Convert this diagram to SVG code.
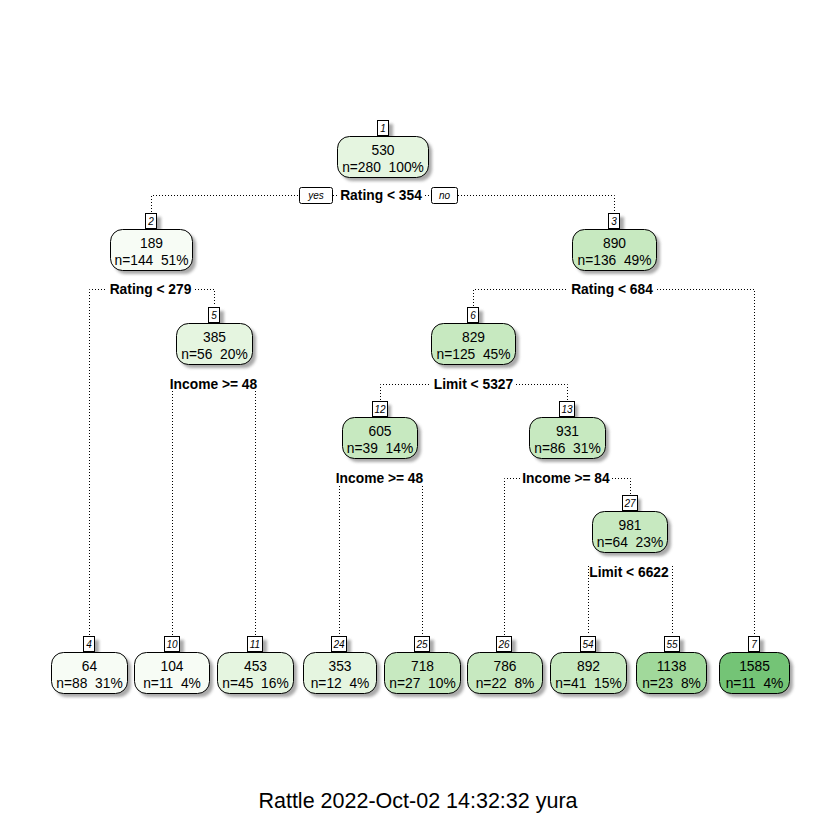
<svg xmlns="http://www.w3.org/2000/svg" width="840" height="840" viewBox="0 0 840 840">
<defs>
<filter id="blur" x="-20%" y="-20%" width="140%" height="140%"><feGaussianBlur stdDeviation="1.6"/></filter>
<style>
.sh{fill:#8c8c8c;opacity:0.75;filter:url(#blur)}
.nb{stroke:#000;stroke-width:1}
.lb{fill:#fff;stroke:#000;stroke-width:1}
.v{font-family:"Liberation Sans",Arial,sans-serif;font-size:13.8px;text-anchor:middle;fill:#000;white-space:pre}
.ln{font-family:"Liberation Sans",Arial,sans-serif;font-size:10px;font-style:italic;text-anchor:middle;fill:#000}
.sp{font-family:"Liberation Sans",Arial,sans-serif;font-size:13.8px;font-weight:bold;text-anchor:middle;fill:#000}
.c{fill:none;stroke:#000;stroke-width:1;stroke-dasharray:1 2}
.g1{fill:#F7FCF5}.g2{fill:#E5F5E0}.g3{fill:#C7E9C0}.g4{fill:#A1D99B}.g5{fill:#74C476}
</style>
</defs>
<rect width="840" height="840" fill="#fff"/>

<g id="connectors" class="c">
<path d="M151.5,212 V195.5 H299"/>
<path d="M333,195.5 H338"/>
<path d="M425,195.5 H431"/>
<path d="M458,195.5 H614.5 V212"/>
<path d="M89.5,635 V289.5 H106"/>
<path d="M195,289.5 H214.5 V306"/>
<path d="M473.5,306 V289.5 H567"/>
<path d="M657,289.5 H754.5 V635"/>
<path d="M172.5,391 V635"/>
<path d="M255.5,391 V635"/>
<path d="M380.5,400 V384.5 H431"/>
<path d="M516,384.5 H567.5 V400"/>
<path d="M339.5,486 V635"/>
<path d="M422.5,486 V635"/>
<path d="M504.5,635 V478.5 H520"/>
<path d="M612,478.5 H630.5 V494"/>
<path d="M588.5,566 V635"/>
<path d="M672.5,566 V635"/>
</g>

<g id="node1">
<rect class="sh" x="382" y="124" width="11" height="15"/>
<rect class="sh" x="341" y="140" width="91" height="41" rx="12"/>
<rect class="nb g2" x="337.5" y="136.5" width="91" height="41" rx="12"/>
<rect class="lb" x="377.5" y="120.5" width="11" height="15"/>
<text class="ln" x="383" y="131.5">1</text>
<text class="v" x="383" y="155">530</text>
<text class="v" x="383" y="172">n=280&#160; 100%</text>
<rect class="lb" x="299.5" y="187.5" width="33" height="16" rx="2"/>
<text class="ln" x="316" y="199">yes</text>
<text class="sp" x="381" y="200">Rating &lt; 354</text>
<rect class="lb" x="431.5" y="187.5" width="26" height="16" rx="2"/>
<text class="ln" x="444.5" y="199">no</text>
</g>

<g id="node2">
<rect class="sh" x="150" y="217" width="11" height="15"/>
<rect class="sh" x="114" y="233" width="82" height="41" rx="12"/>
<rect class="nb g1" x="110.5" y="229.5" width="82" height="41" rx="12"/>
<rect class="lb" x="145.5" y="213.5" width="11" height="15"/>
<text class="ln" x="151" y="224.5">2</text>
<text class="v" x="151.5" y="248">189</text>
<text class="v" x="151.5" y="265">n=144&#160; 51%</text>
<text class="sp" x="150.5" y="294">Rating &lt; 279</text>
</g>

<g id="node3">
<rect class="sh" x="613" y="217" width="11" height="15"/>
<rect class="sh" x="576" y="233" width="84" height="41" rx="12"/>
<rect class="nb g3" x="572.5" y="229.5" width="84" height="41" rx="12"/>
<rect class="lb" x="608.5" y="213.5" width="11" height="15"/>
<text class="ln" x="614" y="224.5">3</text>
<text class="v" x="614.5" y="248">890</text>
<text class="v" x="614.5" y="265">n=136&#160; 49%</text>
<text class="sp" x="612" y="294">Rating &lt; 684</text>
</g>

<g id="node5">
<rect class="sh" x="213" y="311" width="11" height="15"/>
<rect class="sh" x="180" y="327" width="76" height="41" rx="12"/>
<rect class="nb g2" x="176.5" y="323.5" width="76" height="41" rx="12"/>
<rect class="lb" x="208.5" y="307.5" width="11" height="15"/>
<text class="ln" x="214" y="318.5">5</text>
<text class="v" x="214.5" y="342">385</text>
<text class="v" x="214.5" y="359">n=56&#160; 20%</text>
<text class="sp" x="213.5" y="389">Income &gt;= 48</text>
</g>

<g id="node6">
<rect class="sh" x="472" y="311" width="11" height="15"/>
<rect class="sh" x="435" y="327" width="84" height="41" rx="12"/>
<rect class="nb g3" x="431.5" y="323.5" width="84" height="41" rx="12"/>
<rect class="lb" x="467.5" y="307.5" width="11" height="15"/>
<text class="ln" x="473" y="318.5">6</text>
<text class="v" x="473.5" y="342">829</text>
<text class="v" x="473.5" y="359">n=125&#160; 45%</text>
<text class="sp" x="473.5" y="389">Limit &lt; 5327</text>
</g>

<g id="node12">
<rect class="sh" x="376" y="405" width="15" height="15"/>
<rect class="sh" x="346" y="421" width="75" height="41" rx="12"/>
<rect class="nb g3" x="342.5" y="417.5" width="75" height="41" rx="12"/>
<rect class="lb" x="372.5" y="401.5" width="15" height="15"/>
<text class="ln" x="380" y="412.5">12</text>
<text class="v" x="380" y="436">605</text>
<text class="v" x="380" y="453">n=39&#160; 14%</text>
<text class="sp" x="379.5" y="483">Income &gt;= 48</text>
</g>

<g id="node13">
<rect class="sh" x="563" y="405" width="15" height="15"/>
<rect class="sh" x="533" y="421" width="76" height="41" rx="12"/>
<rect class="nb g3" x="529.5" y="417.5" width="76" height="41" rx="12"/>
<rect class="lb" x="559.5" y="401.5" width="15" height="15"/>
<text class="ln" x="567" y="412.5">13</text>
<text class="v" x="567.5" y="436">931</text>
<text class="v" x="567.5" y="453">n=86&#160; 31%</text>
<text class="sp" x="566" y="483">Income &gt;= 84</text>
</g>

<g id="node27">
<rect class="sh" x="626" y="499" width="15" height="15"/>
<rect class="sh" x="596" y="515" width="75" height="41" rx="12"/>
<rect class="nb g3" x="592.5" y="511.5" width="75" height="41" rx="12"/>
<rect class="lb" x="622.5" y="495.5" width="15" height="15"/>
<text class="ln" x="630" y="506.5">27</text>
<text class="v" x="630" y="530">981</text>
<text class="v" x="630" y="547">n=64&#160; 23%</text>
<text class="sp" x="629" y="577">Limit &lt; 6622</text>
</g>

<g id="node4">
<rect class="sh" x="88" y="640" width="11" height="15"/>
<rect class="sh" x="55" y="656" width="76" height="41" rx="12"/>
<rect class="nb g1" x="51.5" y="652.5" width="76" height="41" rx="12"/>
<rect class="lb" x="83.5" y="636.5" width="11" height="15"/>
<text class="ln" x="89" y="647.5">4</text>
<text class="v" x="89.5" y="671">64</text>
<text class="v" x="89.5" y="688">n=88&#160; 31%</text>
</g>

<g id="node10">
<rect class="sh" x="169" y="640" width="15" height="15"/>
<rect class="sh" x="138" y="656" width="75" height="41" rx="12"/>
<rect class="nb g1" x="134.5" y="652.5" width="75" height="41" rx="12"/>
<rect class="lb" x="164.5" y="636.5" width="15" height="15"/>
<text class="ln" x="172" y="647.5">10</text>
<text class="v" x="172" y="671">104</text>
<text class="v" x="172" y="688">n=11&#160; 4%</text>
</g>

<g id="node11">
<rect class="sh" x="252" y="640" width="15" height="15"/>
<rect class="sh" x="221" y="656" width="76" height="41" rx="12"/>
<rect class="nb g2" x="217.5" y="652.5" width="76" height="41" rx="12"/>
<rect class="lb" x="247.5" y="636.5" width="15" height="15"/>
<text class="ln" x="255" y="647.5">11</text>
<text class="v" x="255.5" y="671">453</text>
<text class="v" x="255.5" y="688">n=45&#160; 16%</text>
</g>

<g id="node24">
<rect class="sh" x="336" y="640" width="15" height="15"/>
<rect class="sh" x="307" y="656" width="73" height="41" rx="12"/>
<rect class="nb g2" x="303.5" y="652.5" width="73" height="41" rx="12"/>
<rect class="lb" x="331.5" y="636.5" width="15" height="15"/>
<text class="ln" x="339" y="647.5">24</text>
<text class="v" x="340" y="671">353</text>
<text class="v" x="340" y="688">n=12&#160; 4%</text>
</g>

<g id="node25">
<rect class="sh" x="419" y="640" width="15" height="15"/>
<rect class="sh" x="388" y="656" width="76" height="41" rx="12"/>
<rect class="nb g3" x="384.5" y="652.5" width="76" height="41" rx="12"/>
<rect class="lb" x="414.5" y="636.5" width="15" height="15"/>
<text class="ln" x="422" y="647.5">25</text>
<text class="v" x="422.5" y="671">718</text>
<text class="v" x="422.5" y="688">n=27&#160; 10%</text>
</g>

<g id="node26">
<rect class="sh" x="501" y="640" width="15" height="15"/>
<rect class="sh" x="471" y="656" width="75" height="41" rx="12"/>
<rect class="nb g3" x="467.5" y="652.5" width="75" height="41" rx="12"/>
<rect class="lb" x="496.5" y="636.5" width="15" height="15"/>
<text class="ln" x="504" y="647.5">26</text>
<text class="v" x="505" y="671">786</text>
<text class="v" x="505" y="688">n=22&#160; 8%</text>
</g>

<g id="node54">
<rect class="sh" x="585" y="640" width="15" height="15"/>
<rect class="sh" x="554" y="656" width="76" height="41" rx="12"/>
<rect class="nb g3" x="550.5" y="652.5" width="76" height="41" rx="12"/>
<rect class="lb" x="580.5" y="636.5" width="15" height="15"/>
<text class="ln" x="588" y="647.5">54</text>
<text class="v" x="588.5" y="671">892</text>
<text class="v" x="588.5" y="688">n=41&#160; 15%</text>
</g>

<g id="node55">
<rect class="sh" x="669" y="640" width="15" height="15"/>
<rect class="sh" x="640" y="656" width="70" height="41" rx="12"/>
<rect class="nb g4" x="636.5" y="652.5" width="70" height="41" rx="12"/>
<rect class="lb" x="664.5" y="636.5" width="15" height="15"/>
<text class="ln" x="672" y="647.5">55</text>
<text class="v" x="671.5" y="671">1138</text>
<text class="v" x="671.5" y="688">n=23&#160; 8%</text>
</g>

<g id="node7">
<rect class="sh" x="753" y="640" width="11" height="15"/>
<rect class="sh" x="723" y="656" width="70" height="41" rx="12"/>
<rect class="nb g5" x="719.5" y="652.5" width="70" height="41" rx="12"/>
<rect class="lb" x="748.5" y="636.5" width="11" height="15"/>
<text class="ln" x="754" y="647.5">7</text>
<text class="v" x="754.5" y="671">1585</text>
<text class="v" x="754.5" y="688">n=11&#160; 4%</text>
</g>

<text x="418" y="808" font-family="Liberation Sans, Arial, sans-serif" font-size="21.5" text-anchor="middle" fill="#000">Rattle 2022-Oct-02 14:32:32 yura</text>
</svg>
